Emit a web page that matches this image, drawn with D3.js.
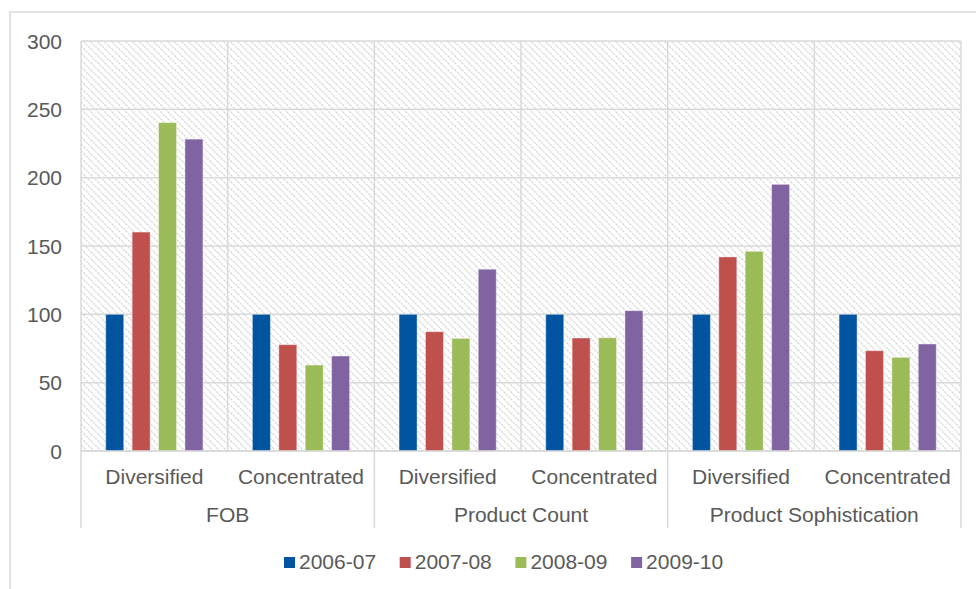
<!DOCTYPE html>
<html>
<head>
<meta charset="utf-8">
<script src="https://cdn.jsdelivr.net/npm/d3@7"></script>
<style>
  body { margin: 0; background: #fff; }
  text { font-family: "Liberation Sans", Arial, sans-serif; fill: #595959; }
</style>
</head>
<body>
<svg id="chart" width="976" height="589"></svg>
<script>
// chart data
var groups = ["FOB", "Product Count", "Product Sophistication"];
var subCats = ["Diversified", "Concentrated"];
var years = ["2006-07", "2007-08", "2008-09", "2009-10"];
var colors = ["#0054A0", "#C0504D", "#9BBB59", "#8064A2"];
var yTicks = [0, 50, 100, 150, 200, 250, 300];

// one value per (group, subCat) pair, in order
var v2006 = [100, 100, 100, 100, 100, 100];
var v2007 = [160.2, 77.8, 87.3, 82.7, 142, 73.4];
var v2008 = [240.3, 62.9, 82.4, 82.9, 146.1, 68.5];
var v2009 = [228.2, 69.5, 133, 102.7, 195.1, 78.3];
var seriesValues = [v2006, v2007, v2008, v2009];

var svg = d3.select("#chart");
var plotLeft = 81, plotRight = 961, plotTop = 41, plotBottom = 451;

// pairs like "FOB|Diversified"
var cells = [];
groups.forEach(function(g) {
  subCats.forEach(function(s) { cells.push(g + "|" + s); });
});

var x = d3.scaleBand().domain(cells).range([plotLeft, plotRight]);
var xGroup = d3.scaleBand().domain(groups).range([plotLeft, plotRight]);
var xInner = d3.scaleBand().domain(years).range([0, x.bandwidth()])
  .paddingInner(0.318).paddingOuter(0.937);
var y = d3.scaleLinear().domain([0, 300]).range([plotBottom, plotTop]);

// outer chart frame
svg.append("rect")
  .attr("x", 10).attr("y", 12).attr("width", 980).attr("height", 600)
  .attr("fill", "none").attr("stroke", "#d9d9d9").attr("stroke-width", 1.5);

// hatch fill for the plot area
var defs = svg.append("defs");
var pat = defs.append("pattern")
  .attr("id", "hatch").attr("patternUnits", "userSpaceOnUse")
  .attr("width", 7).attr("height", 7);
pat.append("path")
  .attr("d", "M0,0L7,7M-1,6L1,8M6,-1L8,1")
  .attr("stroke", "#d6d6d6").attr("stroke-width", 1.3)
  .attr("stroke-dasharray", "2,1");

svg.append("rect")
  .attr("x", plotLeft).attr("y", plotTop)
  .attr("width", plotRight - plotLeft).attr("height", plotBottom - plotTop)
  .attr("fill", "url(#hatch)");

// horizontal gridlines
svg.append("g").selectAll("line")
  .data(yTicks)
  .enter().append("line")
    .attr("x1", plotLeft).attr("x2", plotRight)
    .attr("y1", function(d) { return y(d); })
    .attr("y2", function(d) { return y(d); })
    .attr("stroke", "#d9d9d9").attr("stroke-width", 1.5);

// vertical gridlines at each category edge
var edges = cells.map(function(c) { return x(c); }).concat([plotRight]);
svg.append("g").selectAll("line")
  .data(edges)
  .enter().append("line")
    .attr("x1", function(d) { return d; }).attr("x2", function(d) { return d; })
    .attr("y1", plotTop).attr("y2", plotBottom)
    .attr("stroke", "#d9d9d9").attr("stroke-width", 1.5);

// bars
seriesValues.forEach(function(vals, i) {
  svg.append("g").selectAll("rect")
    .data(vals)
    .enter().append("rect")
      .attr("x", function(d, j) { return x(cells[j]) + xInner(years[i]); })
      .attr("y", function(d) { return y(d); })
      .attr("width", xInner.bandwidth())
      .attr("height", function(d) { return y(0) - y(d); })
      .attr("fill", colors[i])
      .attr("stroke", "#fff").attr("stroke-opacity", 0.4).attr("stroke-width", 1);
});

// y axis labels
svg.append("g").selectAll("text")
  .data(yTicks)
  .enter().append("text")
    .attr("x", 62)
    .attr("y", function(d) { return y(d) + 7.5; })
    .attr("text-anchor", "end")
    .style("font-size", "21px")
    .text(function(d) { return d; });

// category axis: baseline and group separators
svg.append("line")
  .attr("x1", plotLeft).attr("x2", plotRight).attr("y1", plotBottom).attr("y2", plotBottom)
  .attr("stroke", "#d9d9d9").attr("stroke-width", 1.5);

var seps = groups.map(function(g) { return xGroup(g); }).concat([plotRight]);
svg.append("g").selectAll("line")
  .data(seps)
  .enter().append("line")
    .attr("x1", function(d) { return d; }).attr("x2", function(d) { return d; })
    .attr("y1", plotBottom).attr("y2", 528)
    .attr("stroke", "#d9d9d9").attr("stroke-width", 1.5);

svg.append("g").selectAll("text")
  .data(cells)
  .enter().append("text")
    .attr("x", function(d) { return x(d) + x.bandwidth() / 2; })
    .attr("y", 484)
    .attr("text-anchor", "middle")
    .style("font-size", "21px")
    .text(function(d) { return d.split("|")[1]; });

svg.append("g").selectAll("text")
  .data(groups)
  .enter().append("text")
    .attr("x", function(d) { return xGroup(d) + xGroup.bandwidth() / 2; })
    .attr("y", 522)
    .attr("text-anchor", "middle")
    .style("font-size", "21px")
    .text(function(d) { return d; });

// legend
var legend = svg.append("g").selectAll("g")
  .data(years)
  .enter().append("g")
    .attr("transform", function(d, i) { return "translate(" + (284 + i * 115.7) + ",557)"; });
legend.append("rect")
  .attr("width", 11).attr("height", 11)
  .attr("fill", function(d, i) { return colors[i]; });
legend.append("text")
  .attr("x", 15).attr("y", 11.5)
  .style("font-size", "21px")
  .text(function(d) { return d; });
</script>
</body>
</html>
